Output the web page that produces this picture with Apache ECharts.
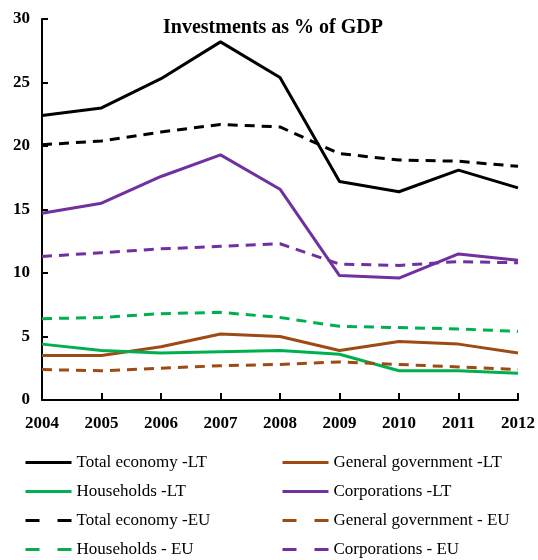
<!DOCTYPE html>
<html>
<head>
<meta charset="utf-8">
<script src="https://cdn.jsdelivr.net/npm/echarts@6/dist/echarts.min.js"></script>
<style>
  html, body { margin: 0; padding: 0; background: #fff; }
  #chart { width: 538px; height: 560px; }
</style>
</head>
<body>
<div id="chart"></div>
<script>
const years = ['2004', '2005', '2006', '2007', '2008', '2009', '2010', '2011', '2012']
const totalLT = [22.4, 23.0, 25.3, 28.2, 25.4, 17.2, 16.4, 18.1, 16.7]
const govLT = [3.5, 3.5, 4.2, 5.2, 5.0, 3.9, 4.6, 4.4, 3.7]
const householdsLT = [4.4, 3.9, 3.7, 3.8, 3.9, 3.6, 2.3, 2.3, 2.1]
const corpLT = [14.7, 15.5, 17.6, 19.3, 16.6, 9.8, 9.6, 11.5, 11.0]
const totalEU = [20.1, 20.4, 21.1, 21.7, 21.5, 19.4, 18.9, 18.8, 18.4]
const govEU = [2.4, 2.3, 2.5, 2.7, 2.8, 3.0, 2.8, 2.6, 2.4]
const householdsEU = [6.4, 6.5, 6.8, 6.9, 6.5, 5.8, 5.7, 5.6, 5.4]
const corpEU = [11.3, 11.6, 11.9, 12.1, 12.3, 10.7, 10.6, 10.9, 10.8]
const yTicks = [0, 5, 10, 15, 20, 25, 30]

const font = '"Liberation Serif", "Times New Roman", serif'

function line (name, data, color, dashed) {
  return {
    name: name,
    type: 'line',
    data: data,
    symbol: 'none',
    color: color,
    lineStyle: { width: 3, color: color, type: dashed ? [10, 7] : 'solid' }
  }
}

// legend entry; dashed ones get the wider two-dash pattern
function item (name, dashed) {
  return dashed ? { name: name, lineStyle: { type: [14, 18] } } : { name: name }
}

const legendBase = {
  orient: 'vertical',
  top: 454,
  height: 110,
  padding: 0,
  itemWidth: 46,
  itemHeight: 14,
  itemGap: 12,
  itemStyle: { opacity: 0 },
  lineStyle: { width: 3 },
  textStyle: { fontFamily: font, fontSize: 17, color: '#000', lineHeight: 16 }
}

const chart = echarts.init(document.getElementById('chart'))
chart.setOption({
  animation: false,
  title: {
    text: 'Investments as % of GDP',
    left: 268,
    top: 13,
    textAlign: 'center',
    textStyle: { fontFamily: font, fontWeight: 'bold', fontSize: 20, color: '#000' }
  },
  legend: [
    Object.assign({}, legendBase, {
      left: 24,
      data: [item('Total economy -LT'), item('Households -LT'),
        item('Total economy -EU', true), item('Households - EU', true)]
    }),
    Object.assign({}, legendBase, {
      left: 281,
      data: [item('General government -LT'), item('Corporations -LT'),
        item('General government - EU', true), item('Corporations - EU', true)]
    })
  ],
  grid: { left: 42, right: 20, top: 19, bottom: 160 },
  xAxis: {
    type: 'category',
    data: years,
    boundaryGap: false,
    axisLine: { lineStyle: { color: '#000', width: 2 } },
    axisTick: { inside: true, length: 7, lineStyle: { color: '#000', width: 2 } },
    axisLabel: { fontFamily: font, fontWeight: 'bold', fontSize: 17, color: '#000', margin: 15 }
  },
  yAxis: {
    type: 'value',
    min: yTicks[0],
    max: yTicks[yTicks.length - 1],
    interval: 5,
    splitLine: { show: false },
    axisLine: { show: true, lineStyle: { color: '#000', width: 2 } },
    axisTick: { show: true, inside: true, length: 6, lineStyle: { color: '#000', width: 2 } },
    axisLabel: { fontFamily: font, fontWeight: 'bold', fontSize: 17, color: '#000', margin: 12 }
  },
  series: [
    line('Total economy -LT', totalLT, '#000000', false),
    line('General government -LT', govLT, '#9E4A14', false),
    line('Households -LT', householdsLT, '#00B050', false),
    line('Corporations -LT', corpLT, '#7030A0', false),
    line('Total economy -EU', totalEU, '#000000', true),
    line('General government - EU', govEU, '#9E4A14', true),
    line('Households - EU', householdsEU, '#00B050', true),
    line('Corporations - EU', corpEU, '#7030A0', true)
  ]
})
</script>
</body>
</html>
